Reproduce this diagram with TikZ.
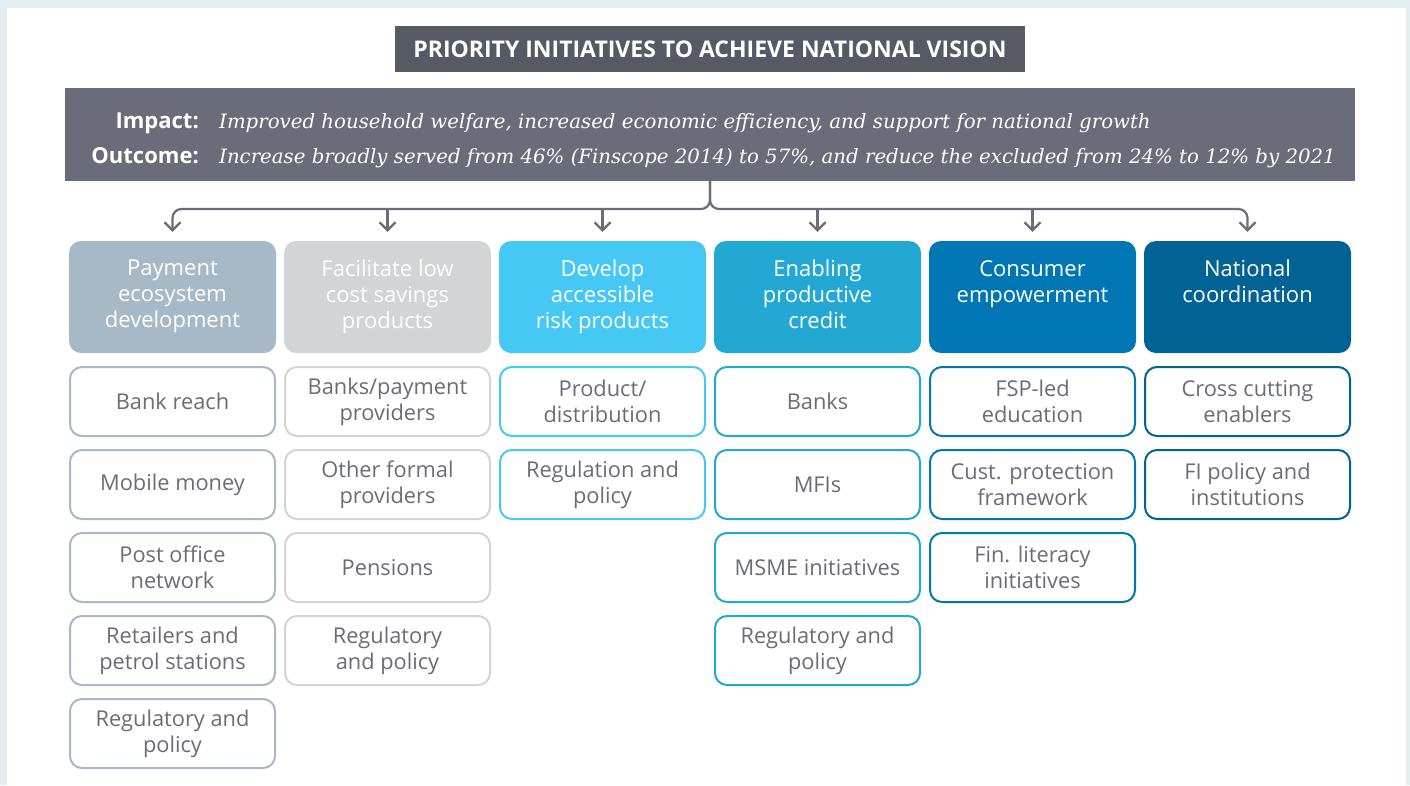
\documentclass[tikz,border=0pt]{standalone}
\usepackage{fontspec}
\setmainfont{Open Sans}
\newfontfamily\notefont{DejaVu Serif}
\usetikzlibrary{arrows.meta}
\definecolor{frame}{HTML}{E3EDEF}
\definecolor{slate}{HTML}{575A64}
\definecolor{steel}{HTML}{6B6C79}
\definecolor{payment}{HTML}{A7B8C7}
\definecolor{savings}{HTML}{D3D4D6}
\definecolor{risk}{HTML}{45C8F4}
\definecolor{credit}{HTML}{23A8D3}
\definecolor{consumer}{HTML}{0077B4}
\definecolor{national}{HTML}{006393}
\tikzset{
  banner/.style={fill=slate, text=white, minimum width=630pt, minimum height=46pt, inner sep=0pt, font=\fontsize{23}{27}\selectfont\bfseries},
  goal/.style={fill=steel, minimum width=1290pt, minimum height=93pt, inner sep=0pt},
  key/.style={inner sep=0pt, anchor=base east, text=white, font=\fontsize{22}{26}\selectfont\bfseries},
  aim/.style={inner sep=0pt, anchor=base west, text=white, font=\notefont\itshape\fontsize{19.75}{24}\selectfont},
  pillar/.style={fill=#1, rounded corners=12pt, minimum width=207pt, minimum height=112pt, inner sep=0pt},
  pillartext/.style={anchor=north, text=white, align=center, inner sep=0pt, font=\fontsize{22}{26}\selectfont},
  item/.style={draw=#1, line width=2pt, fill=white, rounded corners=12pt, minimum width=205pt, minimum height=69pt, inner sep=0pt, align=center, text=steel, font=\fontsize{21.8}{26}\selectfont},
  link/.style={draw=steel, line width=2.2pt, -{Straight Barb[length=8pt,width=16pt]}, shorten >=9pt},
}
\begin{document}
\begin{tikzpicture}[x=1pt, y=-1pt]
  \useasboundingbox (0,0) rectangle (1410,785);
  \fill[frame] (0,0) rectangle (1410,785);
  \fill[white] (7,8) rectangle (1406,785);

  \node[banner] (banner) at (710,49) {PRIORITY INITIATIVES TO ACHIEVE NATIONAL VISION};
  \node[goal] (goal) at (710,134.5) {};
  \node[key] (impact) at (199,128) {Impact:};
  \node[key] (outcome) at (199,163) {Outcome:};
  \node[aim] (impacttext) at (219,128) {Improved household welfare, increased economic efficiency, and support for national growth};
  \node[aim] (outcometext) at (219,163) {Increase broadly served from 46\% (Finscope 2014) to 57\%, and reduce the excluded from 24\% to 12\% by 2021};

  % pillar heads, one per column
  \foreach \i/\c/\head in {1/payment/{Payment\\ecosystem\\development}, 2/savings/{Facilitate low\\cost savings\\products},
      3/risk/{Develop\\accessible\\risk products}, 4/credit/{Enabling\\productive\\credit},
      5/consumer/{Consumer\\empowerment}, 6/national/{National\\coordination}} {
    \node[pillar=\c] (p\i) at ({172.5+215*(\i-1)},297) {};
    \node[pillartext] (p\i-title) at ({172.5+215*(\i-1)},260) {\head};
  }

  % initiatives under each pillar
  \foreach \t [count=\k] in {Bank reach, Mobile money, {Post office\\network}, {Retailers and\\petrol stations}, {Regulatory and\\policy}}
    \node[item=payment] (p1-\k) at (172.5,{401.5+83*(\k-1)}) {\t};
  \foreach \t [count=\k] in {{Banks/payment\\providers}, {Other formal\\providers}, Pensions, {Regulatory\\and policy}}
    \node[item=savings] (p2-\k) at (387.5,{401.5+83*(\k-1)}) {\t};
  \foreach \t [count=\k] in {{Product/\\distribution}, {Regulation and\\policy}}
    \node[item=risk] (p3-\k) at (602.5,{401.5+83*(\k-1)}) {\t};
  \foreach \t [count=\k] in {Banks, MFIs, MSME initiatives, {Regulatory and\\policy}}
    \node[item=credit] (p4-\k) at (817.5,{401.5+83*(\k-1)}) {\t};
  \foreach \t [count=\k] in {{FSP-led\\education}, {Cust. protection\\framework}, {Fin. literacy\\initiatives}}
    \node[item=consumer] (p5-\k) at (1032.5,{401.5+83*(\k-1)}) {\t};
  \foreach \t [count=\k] in {{Cross cutting\\enablers}, {FI policy and\\institutions}}
    \node[item=national] (p6-\k) at (1247.5,{401.5+83*(\k-1)}) {\t};

  % bus from the goal box down to the pillars
  \coordinate (bus) at (710,209);
  \draw[link, rounded corners=9pt] (goal.south) |- (p1.north |- bus) -- (p1.north);
  \draw[link, rounded corners=9pt] (goal.south) |- (p6.north |- bus) -- (p6.north);
  \foreach \i in {2,...,5}
    \draw[link] (p\i.north |- bus) -- (p\i.north);
\end{tikzpicture}
\end{document}
